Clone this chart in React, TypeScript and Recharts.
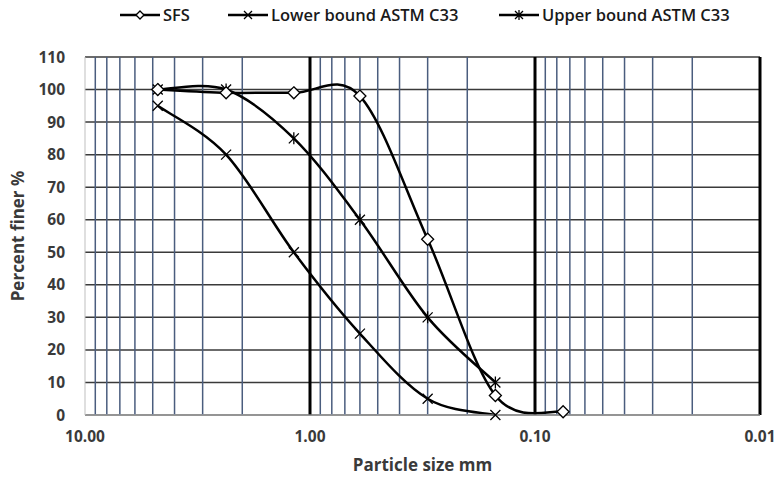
import * as React from "react"
import { LineChart, Line, XAxis, YAxis, CartesianGrid, ReferenceLine } from "recharts"

const SFS_SIZE = [4.75, 2.36, 1.18, 0.6, 0.3, 0.15, 0.075]
const SFS_PASSING = [100, 99, 99, 98, 54, 6, 1]
const LOWER_SIZE = [4.75, 2.36, 1.18, 0.6, 0.3, 0.15]
const LOWER_PASSING = [95, 80, 50, 25, 5, 0]
const UPPER_SIZE = [4.75, 2.36, 1.18, 0.6, 0.3, 0.15]
const UPPER_PASSING = [100, 100, 85, 60, 30, 10]

const X_TICKS = [10, 1, 0.1, 0.01]
const Y_TICKS = [0, 10, 20, 30, 40, 50, 60, 70, 80, 90, 100, 110]
const MINOR_X = [1, 0.1, 0.01].flatMap(d => [9, 8, 7, 6, 5, 4, 3, 2].map(m => +(m * d).toPrecision(3)))
const MAJOR_X = [1, 0.1, 0.01]

const FONT = "'Open Sans', 'Noto Sans', sans-serif"
const TEXT = "#3a3a3a"

const toRows = (xs: number[], ys: number[]) => xs.map((x, i) => ({ size: x, pct: ys[i] }))

// Excel-like smoothed line (Catmull-Rom as cubic beziers)
function smoothCurve(ctx: any) {
  let pts: number[][] = []
  return {
    areaStart() {},
    areaEnd() {},
    lineStart() { pts = [] },
    point(x: number, y: number) { pts.push([+x, +y]) },
    lineEnd() {
      if (!pts.length) return
      ctx.moveTo(pts[0][0], pts[0][1])
      for (let i = 0; i < pts.length - 1; i++) {
        const p0 = pts[i - 1] || pts[i]
        const p1 = pts[i]
        const p2 = pts[i + 1]
        const p3 = pts[i + 2] || p2
        ctx.bezierCurveTo(
          p1[0] + (p2[0] - p0[0]) / 6, p1[1] + (p2[1] - p0[1]) / 6,
          p2[0] - (p3[0] - p1[0]) / 6, p2[1] - (p3[1] - p1[1]) / 6,
          p2[0], p2[1]
        )
      }
    },
  }
}

const Diamond = ({ cx, cy, r = 6 }: any) => (
  <path d={`M${cx},${cy - r}L${cx + r},${cy}L${cx},${cy + r}L${cx - r},${cy}Z`} fill="#fff" stroke="#000" strokeWidth={1.3} />
)
const Cross = ({ cx, cy, r = 5 }: any) => (
  <path d={`M${cx - r},${cy - r}L${cx + r},${cy + r}M${cx - r},${cy + r}L${cx + r},${cy - r}`} stroke="#000" strokeWidth={1.3} />
)
const Star = ({ cx, cy, r = 5 }: any) => (
  <path d={`M${cx - r},${cy - r}L${cx + r},${cy + r}M${cx - r},${cy + r}L${cx + r},${cy - r}M${cx},${cy - r - 1}L${cx},${cy + r + 1}`} stroke="#000" strokeWidth={1.3} />
)

const LegendItem = ({ x, label, Marker }: any) => (
  <g>
    <line x1={x} y1={15} x2={x + 40} y2={15} stroke="#000" strokeWidth={2.5} />
    <Marker cx={x + 20} cy={15} r={4} />
    <text x={x + 43} y={21} fontSize={16.5} fontWeight={600} fill="#1a1a1a" fontFamily={FONT}>{label}</text>
  </g>
)

export default function App() {
  return (
    <div style={{ position: "absolute", left: 0, top: 0, width: 777, height: 481, background: "#fff" }}>
      <svg width={777} height={40} style={{ position: "absolute", left: 0, top: 0 }}>
        <LegendItem x={120} label="SFS" Marker={Diamond} />
        <LegendItem x={228} label="Lower bound ASTM C33" Marker={Cross} />
        <LegendItem x={499} label="Upper bound ASTM C33" Marker={Star} />
      </svg>
      <LineChart width={777} height={481} margin={{ top: 57, right: 17, bottom: 6, left: 0 }}>
        <CartesianGrid vertical={false} stroke="#3a3a3a" strokeWidth={1.5} />
        {MINOR_X.map(v => (
          <ReferenceLine key={v} x={v} stroke="#4a5d7e" strokeWidth={1.5} />
        ))}
        {MAJOR_X.map(v => (
          <ReferenceLine key={"M" + v} x={v} stroke="#000" strokeWidth={3} />
        ))}
        <XAxis
          type="number"
          dataKey="size"
          scale="log"
          domain={[0.01, 10]}
          reversed
          allowDataOverflow
          ticks={X_TICKS}
          tickFormatter={(v: number) => v.toFixed(2)}
          height={60}
          stroke="#bfbfbf"
          tickLine={false}
          tick={{ fill: TEXT, fontSize: 15.5, fontWeight: 700, fontFamily: FONT }}
          tickMargin={10}
          label={{ value: "Particle size mm", position: "insideBottom", offset: 4, fill: TEXT, fontSize: 17, fontWeight: 700, fontFamily: FONT }}
        />
        <YAxis
          type="number"
          domain={[0, 110]}
          ticks={Y_TICKS}
          interval={0}
          width={85}
          stroke="#bfbfbf"
          tickLine={false}
          tick={{ fill: TEXT, fontSize: 15.5, fontWeight: 700, fontFamily: FONT }}
          tickMargin={14}
          label={{ value: "Percent finer %", angle: -90, position: "insideLeft", offset: 18, style: { textAnchor: "middle" }, fill: TEXT, fontSize: 17, fontWeight: 700, fontFamily: FONT }}
        />
        <Line data={toRows(LOWER_SIZE, LOWER_PASSING)} dataKey="pct" type={smoothCurve as any} stroke="#000" strokeWidth={2.5} dot={(p: any) => <Cross key={p.index} cx={p.cx} cy={p.cy} />} isAnimationActive={false} />
        <Line data={toRows(UPPER_SIZE, UPPER_PASSING)} dataKey="pct" type={smoothCurve as any} stroke="#000" strokeWidth={2.5} dot={(p: any) => <Star key={p.index} cx={p.cx} cy={p.cy} />} isAnimationActive={false} />
        <Line data={toRows(SFS_SIZE, SFS_PASSING)} dataKey="pct" type={smoothCurve as any} stroke="#000" strokeWidth={2.5} dot={(p: any) => <Diamond key={p.index} cx={p.cx} cy={p.cy} />} isAnimationActive={false} />
      </LineChart>
    </div>
  )
}
